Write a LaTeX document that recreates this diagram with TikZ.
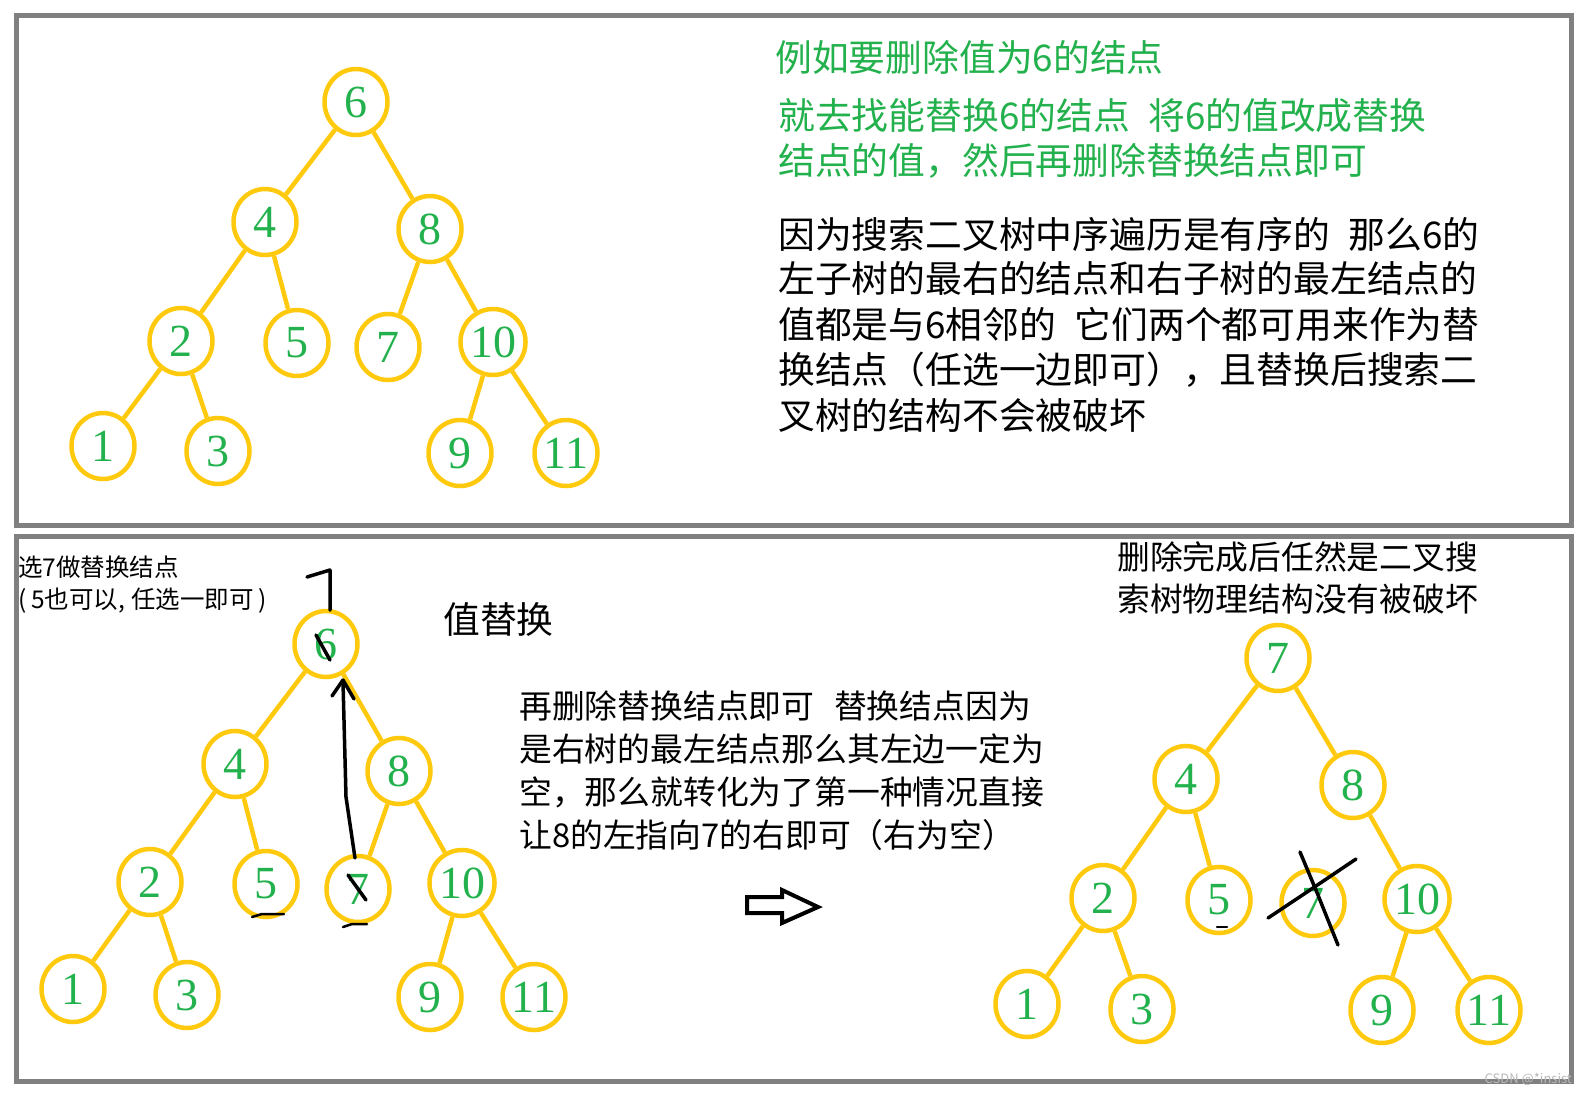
\documentclass[tikz,border=0pt]{standalone}
\usepackage{fontspec}
\setmainfont{Liberation Serif}
\newfontfamily\cjk{Noto Sans CJK SC}
\usepackage{tikz}
\usetikzlibrary{shapes.geometric}

\definecolor{nodeyellow}{RGB}{255,201,14}
\definecolor{numgreen}{RGB}{34,177,76}
\definecolor{framegray}{RGB}{128,128,128}

\tikzset{
	tn/.style={ellipse, draw=nodeyellow, line width=4.5pt, minimum width=63pt, minimum height=66pt, inner sep=0pt, text=numgreen, font=\fontsize{46}{46}\selectfont},
	te/.style={draw=nodeyellow, line width=4.5pt},
	bigtxt/.style={anchor=base west, inner sep=0pt, font=\cjk\fontsize{36.8}{40}\selectfont},
	midtxt/.style={anchor=base west, inner sep=0pt, font=\cjk\fontsize{32.8}{36}\selectfont},
	smalltxt/.style={anchor=base west, inner sep=0pt, font=\cjk\fontsize{24.5}{27}\selectfont},
	pen/.style={draw=black, line width=3.5pt, line cap=round, line join=round}
}

\begin{document}
\begin{tikzpicture}[x=1pt, y=-1pt]
						\useasboundingbox (0,0) rectangle (1587,1093);
						% frames
						\draw[framegray, line width=5pt] (16,15) rectangle (1571,525);
						\draw[framegray, line width=5pt] (16,536) rectangle (1571,1081);

						% upper tree
						\node[tn] (t6) at (356,102) {6};
						\node[tn] (t4) at (265,222) {4}; \node[tn] (t8) at (430,229) {8};
						\node[tn] (t2) at (181,341) {2}; \node[tn] (t5) at (297,343) {5};
						\node[tn] (t7) at (388,347) {7}; \node[tn] (t10) at (493,342) {10};
						\node[tn] (t1) at (103,446) {1}; \node[tn] (t3) at (218,451) {3};
						\node[tn] (t9) at (460,453) {9}; \node[tn] (t11) at (566,453) {11};
						\draw[te] (t6) -- (t4) (t6) -- (t8) (t4) -- (t2) (t4) -- (t5) (t2) -- (t1) (t2) -- (t3)
							(t8) -- (t7) (t8) -- (t10) (t10) -- (t9) (t10) -- (t11);

						\node[bigtxt, text=numgreen] (g1) at (775,71) {例如要删除值为6的结点};
						\node[bigtxt, text=numgreen] (g2) at (778,129) {就去找能替换6的结点\hspace{0.5em}将6的值改成替换};
						\node[bigtxt, text=numgreen] (g3) at (778,174) {结点的值，然后再删除替换结点即可};
						\node[bigtxt] (b1) at (778,248) {因为搜索二叉树中序遍历是有序的\hspace{0.5em}那么6的};
						\node[bigtxt] (b2) at (778,292) {左子树的最右的结点和右子树的最左结点的};
						\node[bigtxt] (b3) at (778,338) {值都是与6相邻的\hspace{0.5em}它们两个都可用来作为替};
						\node[bigtxt] (b4) at (778,383) {换结点（任选一边即可），且替换后搜索二};
						\node[bigtxt] (b5) at (778,429) {叉树的结构不会被破坏};

						% lower left tree
						\node[tn] (l6) at (326,644) {6};
						\node[tn] (l4) at (235,764) {4}; \node[tn] (l8) at (399,771) {8};
						\node[tn] (l2) at (150,882) {2}; \node[tn] (l5) at (266,884) {5};
						\node[tn] (l7) at (358,889) {7}; \node[tn] (l10) at (462,883) {10};
						\node[tn] (l1) at (73,989) {1}; \node[tn] (l3) at (187,995) {3};
						\node[tn] (l9) at (430,997) {9}; \node[tn] (l11) at (534,997) {11};
						\draw[te] (l6) -- (l4) (l6) -- (l8) (l4) -- (l2) (l4) -- (l5) (l2) -- (l1) (l2) -- (l3)
							(l8) -- (l7) (l8) -- (l10) (l10) -- (l9) (l10) -- (l11);

						\node[smalltxt] (s1) at (18,576) {选7做替换结点};
						\node[smalltxt] (s2) at (18,608) {(\hspace{0.2em}5也可以,\hspace{0.25em}任选一即可\hspace{0.2em})};
						\node[bigtxt] (swap) at (443,633) {值替换};

						% pen marks
						\draw[pen] (307,577) -- (330,570) -- (330,610);
						\draw[pen] (355,858) -- (346,797) -- (343,682);
						\draw[pen] (332,696) -- (343,680) -- (354,699);
						\draw[pen] (316,635) -- (330,660);
						\draw[pen] (348,875) -- (366,900);
						\draw[pen, line width=2.5pt] (252,917) -- (262,914) -- (284,914);
						\draw[pen, line width=2.5pt] (343,927) -- (352,924) -- (367,924);

						\node[midtxt] (m1) at (519,718) {再删除替换结点即可\hspace{0.6em}替换结点因为};
						\node[midtxt] (m2) at (519,761) {是右树的最左结点那么其左边一定为};
						\node[midtxt] (m3) at (519,804) {空，那么就转化为了第一种情况直接};
						\node[midtxt] (m4) at (519,847) {让8的左指向7的右即可（右为空）};

						% hollow arrow
						\draw[pen, line width=4pt, line cap=butt, line join=miter] (747,897) -- (782,897) -- (782,890) -- (818,907)
							-- (782,923) -- (782,913) -- (747,913) -- cycle;

						% lower right tree
						\node[midtxt] (r1) at (1117,569) {删除完成后任然是二叉搜};
						\node[midtxt] (r2) at (1117,611) {索树物理结构没有被破坏};

						\node[tn] (r7) at (1278,658) {7};
						\node[tn] (r4) at (1186,779) {4}; \node[tn] (r8) at (1353,785) {8};
						\node[tn] (r2n) at (1103,898) {2}; \node[tn] (r5) at (1219,900) {5};
						\node[tn] (rx) at (1313,903) {7}; \node[tn] (r10) at (1417,899) {10};
						\node[tn] (r1n) at (1027,1004) {1}; \node[tn] (r3) at (1142,1009) {3};
						\node[tn] (r9) at (1382,1010) {9}; \node[tn] (r11) at (1489,1010) {11};
						\draw[te] (r7) -- (r4) (r7) -- (r8) (r4) -- (r2n) (r4) -- (r5) (r2n) -- (r1n) (r2n) -- (r3)
							(r8) -- (r10) (r10) -- (r9) (r10) -- (r11);

						\draw[pen] (1300,852) -- (1318,895) -- (1338,945);
						\draw[pen] (1268,918) -- (1310,890) -- (1356,859);
						\draw[pen, line width=2.5pt] (1217,927) -- (1227,927);

						\node[anchor=base east, inner sep=0pt, text=gray!55, font=\cjk\fontsize{13}{13}\selectfont] (mark) at (1572,1083) {CSDN @*insist};
					\end{tikzpicture}
\end{document}
